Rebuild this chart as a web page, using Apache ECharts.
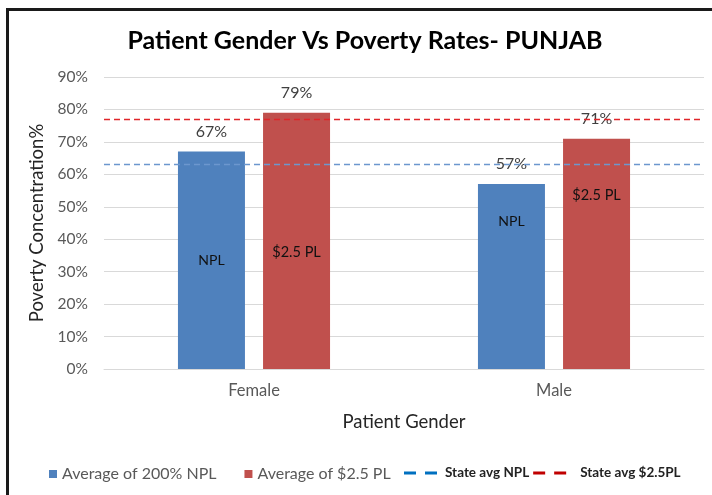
<!DOCTYPE html>
<html>
<head>
<meta charset="utf-8">
<script src="https://cdn.jsdelivr.net/npm/echarts@6/dist/echarts.min.js"></script>
<style>
  body { margin: 0; background: #fff; }
  #wrap { position: relative; width: 712px; height: 495px; overflow: hidden; }
  #chart { width: 712px; height: 495px; }
  #frame {
    position: absolute; left: 6px; top: 8px; width: 800px; height: 600px;
    border-left: 3px solid #1a1a1a; border-top: 3px solid #1a1a1a;
    pointer-events: none;
  }
</style>
</head>
<body>
<div id="wrap">
  <div id="chart"></div>
  <div id="frame"></div>
</div>
<script>
var categories = ["Female", "Male"];
var nplValues = [67, 57];
var plValues = [79, 71];
var stateAvgNpl = 63;
var stateAvgPl = 77;
var yTicks = [0, 10, 20, 30, 40, 50, 60, 70, 80, 90];

// where the name label sits inside each bar (px from bar middle)
var nplNameDy = [0, -55];
var plNameDy = [11, -58];

var FONT = "Lato, 'Open Sans', sans-serif";
var blue = "#4F81BD";
var red = "#C0504D";

var chart = echarts.init(document.getElementById("chart"));

function nameLabels(values, dys) {
  return values.map(function (v, i) {
    return { value: v, label: { offset: [0, dys[i]] } };
  });
}

var option = {
  animation: false,
  textStyle: { fontFamily: FONT },
  title: {
    text: "Patient Gender Vs Poverty Rates- PUNJAB",
    left: 360,
    textAlign: "center",
    top: 23,
    textStyle: { fontFamily: FONT, fontSize: 25, fontWeight: "bold", color: "#000" },
  },
  grid: { left: 104, right: 8, top: 77, bottom: 126 },
  legend: [
    {
      left: 44,
      top: 461,
      itemWidth: 8,
      itemHeight: 8,
      itemGap: 28,
      icon: "rect",
      textStyle: { fontFamily: FONT, fontSize: 16, color: "#595959" },
      data: ["Average of 200% NPL", "Average of $2.5 PL"],
    },
    {
      left: 399,
      top: 461,
      itemWidth: 33,
      itemHeight: 3,
      itemGap: 4,
      icon: "path://M0,0h12v3h-12z M21,0h12v3h-12z",
      textStyle: { fontFamily: FONT, fontSize: 13.5, fontWeight: "bold", color: "#222" },
      data: [
        { name: "State avg NPL", textStyle: { padding: [0, 0, 0, 3] } },
        { name: "State avg $2.5PL", textStyle: { padding: [0, 0, 0, 9] } },
      ],
    },
  ],
  xAxis: [
    {
      type: "category",
      data: categories,
      name: "Patient Gender",
      nameLocation: "middle",
      nameGap: 44,
      nameTextStyle: { fontFamily: FONT, fontSize: 18.5, color: "#262626" },
      axisTick: { show: false },
      axisLine: { lineStyle: { color: "#D9D9D9" } },
      axisLabel: { fontFamily: FONT, fontSize: 16.5, color: "#595959", margin: 13 },
    },
    {
      type: "category",
      data: categories,
      show: false,
    },
  ],
  yAxis: {
    type: "value",
    min: 0,
    max: 90,
    interval: 10,
    name: "Poverty Concentration%",
    nameLocation: "middle",
    nameGap: 53,
    nameTextStyle: { fontFamily: FONT, fontSize: 18.5, color: "#262626" },
    axisLine: { show: false },
    axisTick: { show: false },
    splitLine: { lineStyle: { color: "#D9D9D9" } },
    axisLabel: {
      fontFamily: FONT,
      fontSize: 15.5,
      color: "#595959",
      margin: 16,
      formatter: function (v) {
        return yTicks.indexOf(v) >= 0 ? v + "%" : "";
      },
    },
  },
  series: [
    {
      name: "Average of 200% NPL",
      type: "bar",
      barWidth: 67,
      barGap: "27%",
      data: nplValues,
      itemStyle: { color: blue },
      label: {
        show: true,
        position: "top",
        distance: 12,
        formatter: "{c}%",
        fontFamily: FONT,
        fontSize: 16,
        color: "#404040",
      },
    },
    {
      name: "Average of $2.5 PL",
      type: "bar",
      barWidth: 67,
      barGap: "27%",
      data: plValues,
      itemStyle: { color: red },
      label: {
        show: true,
        position: "top",
        distance: 12,
        formatter: "{c}%",
        fontFamily: FONT,
        fontSize: 16,
        color: "#404040",
      },
    },
    // transparent copies carrying the names inside the bars
    {
      name: "npl-name",
      type: "bar",
      xAxisIndex: 1,
      barWidth: 67,
      barGap: "27%",
      silent: true,
      data: nameLabels(nplValues, nplNameDy),
      itemStyle: { color: "transparent" },
      label: {
        show: true,
        position: "inside",
        formatter: "NPL",
        fontFamily: FONT,
        fontSize: 14,
        color: "#111",
      },
    },
    {
      name: "pl-name",
      type: "bar",
      xAxisIndex: 1,
      barWidth: 67,
      barGap: "27%",
      silent: true,
      data: nameLabels(plValues, plNameDy),
      itemStyle: { color: "transparent" },
      label: {
        show: true,
        position: "inside",
        formatter: "$2.5 PL",
        fontFamily: FONT,
        fontSize: 14.5,
        color: "#111",
      },
    },
    {
      name: "State avg NPL",
      type: "line",
      data: [],
      itemStyle: { color: "#0070C0" },
      lineStyle: { color: "#0070C0" },
      markLine: {
        silent: true,
        symbol: "none",
        label: { show: false },
        lineStyle: { color: "#6C97CE", type: [6, 4], width: 1.3 },
        data: [{ yAxis: stateAvgNpl }],
      },
    },
    {
      name: "State avg $2.5PL",
      type: "line",
      data: [],
      itemStyle: { color: "#C00000" },
      lineStyle: { color: "#C00000" },
      markLine: {
        silent: true,
        symbol: "none",
        label: { show: false },
        lineStyle: { color: "#E0262B", type: [6, 4], width: 1.3 },
        data: [{ yAxis: stateAvgPl }],
      },
    },
  ],
};

chart.setOption(option);
</script>
</body>
</html>
